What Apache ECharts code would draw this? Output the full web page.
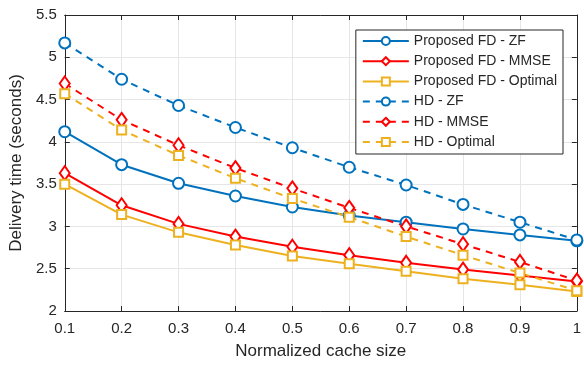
<!DOCTYPE html>
<html>
<head>
<meta charset="utf-8">
<script src="https://cdn.jsdelivr.net/npm/echarts@6/dist/echarts.min.js"></script>
<style>
  html, body { margin: 0; padding: 0; background: #fff; }
  #main { width: 584px; height: 365px; }
</style>
</head>
<body>
<div id="main"></div>
<script>
// normalized cache size
const cacheSize = [0.1, 0.2, 0.3, 0.4, 0.5, 0.6, 0.7, 0.8, 0.9, 1];

// delivery time (seconds)
const fdZF      = [4.12, 3.73, 3.51, 3.36, 3.23, 3.13, 3.05, 2.97, 2.90, 2.83];
const fdMMSE    = [3.63, 3.25, 3.03, 2.88, 2.76, 2.66, 2.57, 2.49, 2.42, 2.35];
const fdOptimal = [3.50, 3.14, 2.93, 2.78, 2.65, 2.56, 2.47, 2.38, 2.31, 2.23];
const hdZF      = [5.17, 4.74, 4.43, 4.17, 3.93, 3.70, 3.49, 3.26, 3.05, 2.84];
const hdMMSE    = [4.69, 4.26, 3.96, 3.69, 3.45, 3.22, 3.00, 2.79, 2.58, 2.36];
const hdOptimal = [4.57, 4.14, 3.84, 3.57, 3.33, 3.11, 2.88, 2.66, 2.45, 2.24];

const blue = '#0072BD';
const red = '#FF0000';
const yellow = '#EDB120';
const font = 'Liberation Sans, Arial, sans-serif';

function pts(ys) {
  return cacheSize.map((x, i) => [x, ys[i]]);
}

function line(name, ys, color, dashed, symbol, size) {
  return {
    name: name,
    type: 'line',
    data: pts(ys),
    symbol: symbol,
    symbolSize: size,
    showAllSymbol: true,
    lineStyle: { color: color, width: 2, type: dashed ? [7, 6] : 'solid' },
    itemStyle: { color: color, borderWidth: 2 },
    emphasis: { disabled: true },
    animation: false
  };
}

const chart = echarts.init(document.getElementById('main'));
const option = {
  backgroundColor: '#fff',
  textStyle: { fontFamily: font },
  grid: { left: 61, right: 4, top: 15, bottom: 50 },
  legend: {
    orient: 'vertical',
    right: 21,
    top: 30,
    itemWidth: 46,
    itemHeight: 10,
    itemGap: 6.2,
    padding: [4, 6, 5, 6],
    backgroundColor: '#fff',
    borderColor: '#262626',
    borderWidth: 1,
    borderRadius: 0,
    textStyle: { fontSize: 14, color: '#262626', fontFamily: font },
    data: ['Proposed FD - ZF', 'Proposed FD - MMSE', 'Proposed FD - Optimal', 'HD - ZF', 'HD - MMSE', 'HD - Optimal']
  },
  xAxis: [{
    type: 'value',
    min: 0.1,
    max: 1,
    interval: 0.1,
    name: 'Normalized cache size',
    nameLocation: 'middle',
    nameGap: 32,
    nameTextStyle: { fontSize: 17, color: '#262626' },
    axisLine: { show: true, lineStyle: { color: '#262626' } },
    axisTick: { inside: true, length: 5, lineStyle: { color: '#262626' } },
    axisLabel: {
      fontSize: 15, color: '#262626', margin: 10,
      formatter: v => String(Math.round(v * 10) / 10)
    },
    splitLine: { show: true, lineStyle: { color: '#e6e6e6' } }
  }, {
    type: 'value',
    position: 'top',
    min: 0.1,
    max: 1,
    interval: 0.1,
    axisLine: { show: true, lineStyle: { color: '#262626' } },
    axisTick: { inside: true, length: 5, lineStyle: { color: '#262626' } },
    axisLabel: { show: false },
    splitLine: { show: false }
  }],
  yAxis: [{
    type: 'value',
    min: 2,
    max: 5.5,
    interval: 0.5,
    name: 'Delivery time (seconds)',
    nameLocation: 'middle',
    nameGap: 37,
    nameTextStyle: { fontSize: 17, color: '#262626' },
    axisLine: { show: true, lineStyle: { color: '#262626' } },
    axisTick: { inside: true, length: 5, lineStyle: { color: '#262626' } },
    axisLabel: { fontSize: 15, color: '#262626', margin: 8 },
    splitLine: { show: true, lineStyle: { color: '#e6e6e6' } }
  }, {
    type: 'value',
    position: 'right',
    min: 2,
    max: 5.5,
    interval: 0.5,
    axisLine: { show: true, lineStyle: { color: '#262626' } },
    axisTick: { inside: true, length: 5, lineStyle: { color: '#262626' } },
    axisLabel: { show: false },
    splitLine: { show: false }
  }],
  series: [
    line('Proposed FD - ZF', fdZF, blue, false, 'emptyCircle', 11),
    line('Proposed FD - MMSE', fdMMSE, red, false, 'emptyDiamond', [10, 14]),
    line('Proposed FD - Optimal', fdOptimal, yellow, false, 'emptyRect', 9),
    line('HD - ZF', hdZF, blue, true, 'emptyCircle', 11),
    line('HD - MMSE', hdMMSE, red, true, 'emptyDiamond', [10, 14]),
    line('HD - Optimal', hdOptimal, yellow, true, 'emptyRect', 9)
  ]
};
chart.setOption(option);
</script>
</body>
</html>
